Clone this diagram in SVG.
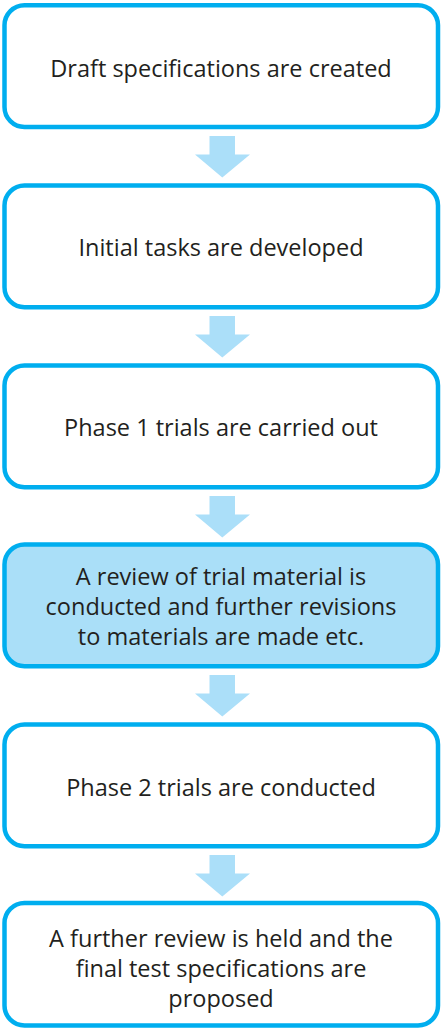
<svg xmlns="http://www.w3.org/2000/svg" width="442" height="1028" viewBox="0 0 442 1028">
<style>
.box{fill:#ffffff;stroke:#00aeef;stroke-width:4.5}
.hl{fill:#aadff8}
.arr{fill:#abdff9}
text{font-family:"Open Sans","Liberation Sans",sans-serif;font-size:23.5px;fill:#231f20;text-anchor:middle}
</style>
<defs>
<path id="ar" d="M209.5,136 H235 V154.5 H250 L222.3,177.5 L195,154.5 H209.5 Z"/>
</defs>
<g id="connectors">
<use href="#ar" class="arr"/>
<use href="#ar" class="arr" y="180"/>
<use href="#ar" class="arr" y="360"/>
<use href="#ar" class="arr" y="539"/>
<use href="#ar" class="arr" y="719"/>
</g>
<g id="n1"><rect class="box" x="4.5" y="5.3" width="433.5" height="121.7" rx="20"/><text x="221" y="76.5">Draft specifications are created</text></g>
<g id="n2"><rect class="box" x="4.5" y="185.5" width="433.5" height="121.7" rx="20"/><text x="221" y="256">Initial tasks are developed</text></g>
<g id="n3"><rect class="box" x="4.5" y="365.5" width="433.5" height="121.7" rx="20"/><text x="221" y="436">Phase 1 trials are carried out</text></g>
<g id="n4"><rect class="box hl" x="4.5" y="544.5" width="433.5" height="121.7" rx="20"/><text x="221" y="585">A review of trial material is</text><text x="221" y="615">conducted and further revisions</text><text x="221" y="645">to materials are made etc.</text></g>
<g id="n5"><rect class="box" x="4.5" y="724.5" width="433.5" height="121.7" rx="20"/><text x="221" y="796">Phase 2 trials are conducted</text></g>
<g id="n6"><rect class="box" x="4.5" y="903" width="433.5" height="122.5" rx="20"/><text x="221" y="947">A further review is held and the</text><text x="221" y="977">final test specifications are</text><text x="221" y="1007">proposed</text></g>
</svg>
